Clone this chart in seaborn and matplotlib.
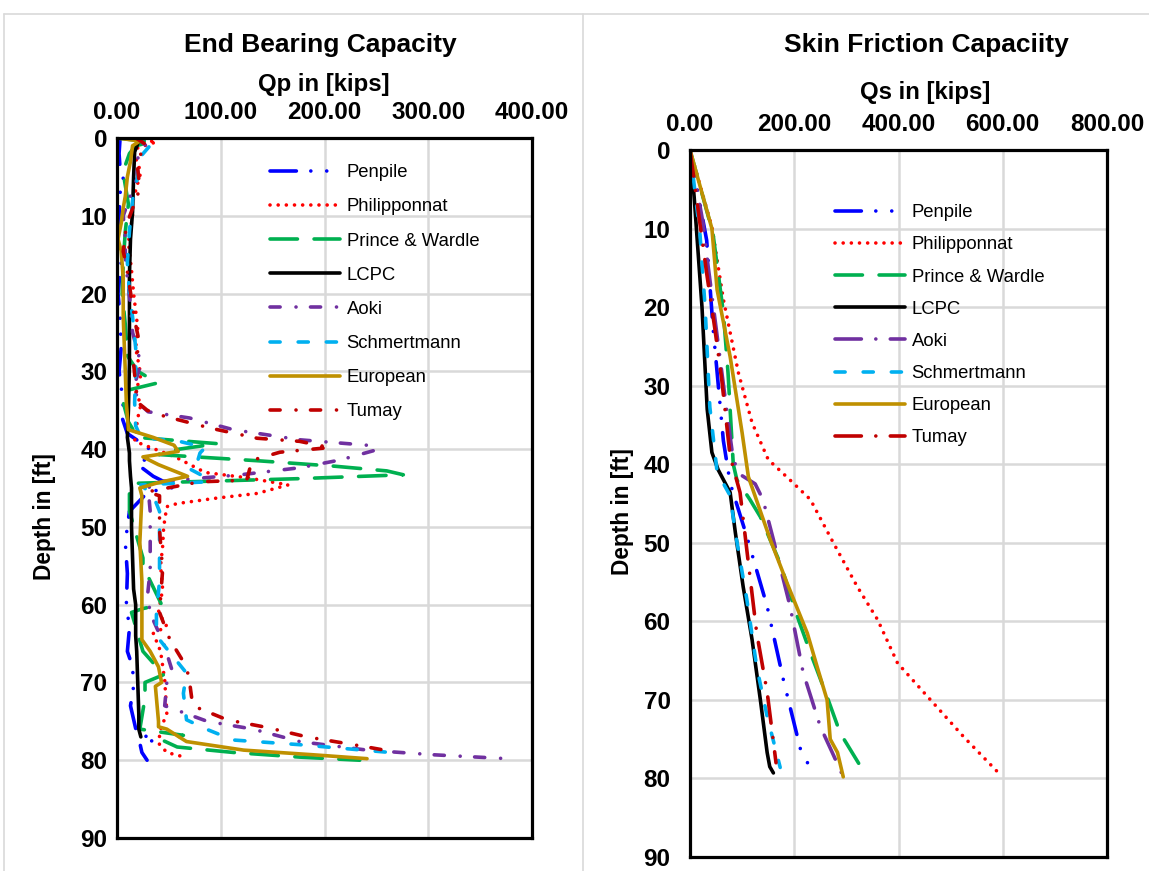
import matplotlib
matplotlib.use("Agg")
import matplotlib.pyplot as plt
import seaborn as sns
import numpy as np
from matplotlib.lines import Line2D

# ---------------- data: End Bearing Capacity (Qp, kips) ----------------
qp_penpile_d = [0, 2, 4, 6, 7, 10, 13, 16, 20, 23, 27, 30, 34, 36, 38, 39.8, 40.8, 42, 43.5, 44.9, 45.5, 48, 52, 56, 60, 63, 66, 68, 70.5, 73, 76.5, 77.4, 77.8, 79, 80]
qp_penpile_v = [3, 2, 3, 8, 3, 2, 1, 4, 1, 3, 4, 2, 6, 5, 10, 30, 33, 20, 35, 56, 30, 12, 8, 10, 9, 12, 10, 15, 16, 13, 19, 38, 22, 24, 29]

qp_philip_d = [0, 0.5, 1.5, 4.4, 8.2, 10, 13.4, 17, 20, 24.4, 27, 30.5, 32.6, 34.3, 36, 38, 39, 41, 43, 43.7, 44.6, 45.7, 46.3, 47, 47.4, 50, 52.5, 55, 58, 61, 62.8, 63.7, 66, 69.7, 74, 76, 77.8, 79, 79.7]
qp_philip_v = [10, 38, 15, 23, 15, 15, 11, 14, 16, 20, 18, 23, 18, 23, 20, 18, 17, 56, 85, 126, 165, 135, 96, 58, 48, 45, 44, 42, 44, 40, 48, 35, 42, 46, 48, 42, 40, 48, 68]

qp_prince_d = [0, 0.5, 1, 2, 3.5, 4.5, 8.5, 12, 16, 20, 24, 28, 30, 31, 31.5, 32.5, 34, 36.5, 38.5, 39.3, 40, 40.7, 41.5, 42.2, 42.8, 43.3, 43.8, 44.4, 45, 48, 54, 55, 60, 60.5, 61, 66, 69, 70, 72, 76, 76.8, 77.5, 78.3, 79, 79.6, 80]
qp_prince_v = [0, 33, 18, 12, 8, 6, 11, 8, 6, 5, 8, 10, 20, 33, 39, 8, 6, 11, 20, 97, 60, 40, 136, 210, 260, 276, 175, 17, 12, 12, 25, 25, 43, 25, 14, 25, 45, 27, 27, 22, 64, 45, 58, 112, 176, 234]

qp_lcpc_d = [0, 1.8, 5, 9.5, 13, 17.6, 23, 29, 35, 38.5, 39.5, 40.5, 41.5, 43.5, 45, 50, 54, 58, 60, 64, 66, 70, 74, 76, 77]
qp_lcpc_v = [22, 17, 16, 15, 13, 12, 12, 12, 11, 10, 11, 12, 12, 13, 14, 14, 15, 16, 18, 18, 19, 20, 21, 21, 23]

qp_aoki_d = [0, 1, 3, 5, 7, 10, 13, 15.5, 18, 21.5, 25, 29, 31.7, 34, 35.2, 36, 37.5, 38.8, 39.5, 40.1, 41.4, 42.4, 43.3, 44.2, 45, 48, 52, 55.5, 59.4, 62, 65, 68.4, 70, 73, 75, 76, 77.6, 78.7, 79.3, 79.8]
qp_aoki_v = [20, 28, 18, 20, 14, 6, 8, 8, 10, 13, 15, 23, 17, 20, 30, 70, 112, 176, 241, 250, 215, 176, 119, 38, 30, 32, 32, 32, 29, 35, 45, 53, 48, 46, 87, 131, 176, 241, 305, 376]

qp_schm_d = [0, 0.8, 2.8, 5, 8, 12, 16, 20, 23, 27, 29.6, 34, 37, 38.5, 39, 39.8, 40.5, 41.4, 42.4, 43.6, 44.2, 44.6, 46, 48, 52, 57, 61, 64, 66, 68.8, 71.4, 74.8, 76, 77.4, 78, 79, 79.7]
qp_schm_v = [10, 33, 20, 20, 15, 12, 10, 12, 15, 18, 18, 17, 18, 23, 60, 85, 80, 78, 68, 85, 88, 23, 35, 41, 41, 41, 38, 38, 50, 67, 64, 67, 86, 112, 176, 263, 265]

qp_euro_d = [0, 0.4, 1, 3, 5, 7.5, 9, 11, 13, 14.5, 18, 23, 30, 34, 37.5, 38.5, 39.5, 40.3, 41, 42, 43.5, 44.3, 45, 46, 52, 57, 64.5, 66, 68, 70, 70.5, 75, 75.7, 76, 77.1, 77.6, 78.7, 79.3, 79.8]
qp_euro_v = [1, 22, 15, 13, 10, 8, 6, 4, 1, 4, 6, 6, 8, 9, 11, 35, 55, 59, 25, 40, 68, 40, 22, 24, 22, 24, 24, 32, 40, 43, 37, 40, 40, 48, 61, 67, 122, 189, 241]

qp_tumay_d = [0, 1, 2, 4, 6.5, 8, 11.2, 14.6, 16.3, 19, 21.5, 24, 26.6, 29, 31.7, 34, 35, 35.6, 37.3, 38.6, 39, 39.8, 40.4, 41.4, 42.5, 44, 44.2, 45.5, 46, 50.4, 55.5, 61, 64.5, 68, 70, 73, 74.8, 75.8, 77, 78.3, 78.9]
qp_tumay_v = [18, 30, 23, 20, 22, 18, 9, 6, 9, 12, 15, 18, 22, 16, 18, 20, 29, 41, 90, 135, 176, 205, 157, 131, 128, 125, 80, 29, 41, 41, 44, 41, 51, 67, 70, 73, 106, 145, 183, 241, 266]

# ---------------- data: Skin Friction Capacity (Qs, kips) ----------------
qs_penpile_d = [0, 11.5, 22.5, 37, 42.4, 49.2, 58.1, 67.4, 76.3, 78.2]
qs_penpile_v = [0, 32, 44, 64, 77, 109, 148, 179, 212, 227]

qs_philip_d = [0, 9.8, 19, 28.4, 34.7, 39.4, 42.2, 44.5, 50, 55.6, 59.8, 65.3, 69.6, 74.7, 79.3]
qs_philip_v = [0, 42, 64, 93, 119, 150, 195, 231, 275, 321, 360, 398, 456, 525, 592]

qs_prince_d = [0, 10.6, 20.7, 28.4, 40, 42, 44.5, 46.7, 52.6, 59.4, 64, 69.6, 74.2, 79.1]
qs_prince_v = [0, 44, 64, 73, 83, 90, 115, 135, 173, 206, 231, 263, 288, 333]

qs_lcpc_d = [0, 6, 20, 33, 38.5, 40.7, 43.6, 48.7, 55.6, 62.3, 70, 76.7, 78.5, 79.3]
qs_lcpc_v = [0, 8, 23, 33, 42, 54, 77, 87, 102, 119, 135, 148, 153, 160]

qs_aoki_d = [0, 9.3, 14.9, 36.5, 39.4, 41.3, 42.5, 44.5, 49.6, 58.1, 66.5, 73.4, 77, 79.8]
qs_aoki_v = [0, 25, 35, 77, 83, 96, 125, 140, 160, 192, 217, 250, 275, 294]

qs_schm_d = [0, 10.6, 20, 32.7, 41, 44, 48.7, 57.2, 65.8, 72.1, 78.6]
qs_schm_v = [0, 19, 29, 38, 52, 77, 87, 109, 128, 148, 173]

qs_euro_d = [0, 10, 17.8, 26.3, 36, 41.6, 49.6, 55.1, 61.5, 65.8, 70, 75, 76.7, 79.8]
qs_euro_v = [0, 42, 52, 77, 100, 112, 154, 186, 225, 244, 263, 269, 283, 294]

qs_tumay_d = [0, 15.7, 22.9, 29.3, 39, 43.6, 50.9, 61.5, 69, 78]
qs_tumay_v = [0, 32, 48, 61, 77, 96, 109, 128, 148, 165]

methods = ["Penpile", "Philipponnat", "Prince & Wardle", "LCPC", "Aoki", "Schmertmann", "European", "Tumay"]
depth_ticks = [0, 10, 20, 30, 40, 50, 60, 70, 80, 90]
qp_ticks = [0, 100, 200, 300, 400]
qs_ticks = [0, 200, 400, 600, 800]

qp_series = {
    "Penpile": (qp_penpile_v, qp_penpile_d),
    "Philipponnat": (qp_philip_v, qp_philip_d),
    "Prince & Wardle": (qp_prince_v, qp_prince_d),
    "LCPC": (qp_lcpc_v, qp_lcpc_d),
    "Aoki": (qp_aoki_v, qp_aoki_d),
    "Schmertmann": (qp_schm_v, qp_schm_d),
    "European": (qp_euro_v, qp_euro_d),
    "Tumay": (qp_tumay_v, qp_tumay_d),
}
qs_series = {
    "Penpile": (qs_penpile_v, qs_penpile_d),
    "Philipponnat": (qs_philip_v, qs_philip_d),
    "Prince & Wardle": (qs_prince_v, qs_prince_d),
    "LCPC": (qs_lcpc_v, qs_lcpc_d),
    "Aoki": (qs_aoki_v, qs_aoki_d),
    "Schmertmann": (qs_schm_v, qs_schm_d),
    "European": (qs_euro_v, qs_euro_d),
    "Tumay": (qs_tumay_v, qs_tumay_d),
}

# ---------------- styling ----------------
sns.set_theme(style="white")
plt.rcParams["font.family"] = ["Liberation Sans", "DejaVu Sans"]
plt.rcParams["text.color"] = "black"
plt.rcParams["xtick.color"] = "black"
plt.rcParams["ytick.color"] = "black"
plt.rcParams["axes.labelcolor"] = "black"

LW = 2.6
colors = {
    "Penpile": "#0000FF", "Philipponnat": "#FF0000", "Prince & Wardle": "#00B050",
    "LCPC": "#000000", "Aoki": "#7030A0", "Schmertmann": "#00B0F0",
    "European": "#BF9000", "Tumay": "#C00000",
}
styles_left = {
    "Penpile": (0, (7.3, 4.0, 0.01, 4.4, 0.01, 4.0)),
    "Philipponnat": (0, (0.01, 2.25)),
    "Prince & Wardle": (0, (7.6, 4.6)),
    "LCPC": "-",
    "Aoki": (0, (2.8, 4.4, 0.01, 4.0)),
    "Schmertmann": (0, (2.8, 5.0)),
    "European": "-",
    "Tumay": (0, (2.8, 4.4, 0.01, 4.0)),
}
styles_right = dict(styles_left)
styles_right["Aoki"] = (0, (7.3, 4.0, 0.01, 4.0))
styles_right["Tumay"] = (0, (7.3, 4.0, 0.01, 4.0))

W, H = 1149, 871
fig = plt.figure(figsize=(W / 100, H / 100), dpi=100)

def px_rect(x0, y0, x1, y1):
    return [x0 / W, 1 - y1 / H, (x1 - x0) / W, (y1 - y0) / H]

ax1 = fig.add_axes(px_rect(117, 138, 532, 838))
ax2 = fig.add_axes(px_rect(690, 150, 1107, 857))

def draw(ax, series, styles, xticks, ypad):
    for m in methods:
        v, d = series[m]
        sns.lineplot(x=v, y=d, ax=ax, sort=False, estimator=None, color=colors[m],
                     linewidth=LW, linestyle=styles[m], dash_capstyle="round",
                     solid_capstyle="round", solid_joinstyle="round", label=m, legend=False)
    ax.set_xlim(xticks[0], xticks[-1])
    ax.set_ylim(90, 0)
    ax.set_xticks(xticks)
    ax.set_xticklabels([f"{t:.2f}" for t in xticks])
    ax.set_yticks(depth_ticks)
    ax.set_yticklabels([str(t) for t in depth_ticks])
    ax.xaxis.tick_top()
    ax.tick_params(axis="x", length=0, labelsize=17.5, pad=10)
    ax.tick_params(axis="y", length=0, labelsize=17.5, pad=ypad)
    for lab in ax.get_xticklabels() + ax.get_yticklabels():
        lab.set_fontweight("bold")
    ax.grid(True, color="#D9D9D9", linewidth=1.8)
    ax.set_axisbelow(True)
    for s in ax.spines.values():
        s.set_color("black")
        s.set_linewidth(2.3)
    ax.set_xlabel("")
    ax.set_ylabel("")

draw(ax1, qp_series, styles_left, qp_ticks, 7)
draw(ax2, qs_series, styles_right, qs_ticks, 14)

# legends
h1, l1 = ax1.get_legend_handles_labels()
ax1.legend(h1, l1, loc="upper left", bbox_to_anchor=(261 / W, 1 - 155 / H),
           bbox_transform=fig.transFigure, frameon=False, fontsize=13.3,
           handlelength=3.8, handletextpad=0.33, labelspacing=0.93, borderpad=0)
h2, l2 = ax2.get_legend_handles_labels()
ax2.legend(h2, l2, loc="upper left", bbox_to_anchor=(826 / W, 1 - 195 / H),
           bbox_transform=fig.transFigure, frameon=False, fontsize=13.3,
           handlelength=3.8, handletextpad=0.33, labelspacing=0.82, borderpad=0)

# titles & axis labels
fig.text(320 / W, 1 - 45 / H, "End Bearing Capacity", ha="center", va="center",
         fontsize=19, fontweight="bold")
fig.text(926 / W, 1 - 45 / H, "Skin Friction Capaciity", ha="center", va="center",
         fontsize=19, fontweight="bold")
fig.text(324 / W, 1 - 85 / H, "Qp in [kips]", ha="center", va="center",
         fontsize=17.3, fontweight="bold")
fig.text(925 / W, 1 - 92 / H, "Qs in [kips]", ha="center", va="center",
         fontsize=17.3, fontweight="bold")
fig.text(45 / W, 1 - 517 / H, "Depth in [ft]", ha="center", va="center",
         rotation=90, fontsize=16.3, fontweight="bold")
fig.text(622 / W, 1 - 512 / H, "Depth in [ft]", ha="center", va="center",
         rotation=90, fontsize=16.3, fontweight="bold")

# chart-area frame lines
frame_c = "#D9D9D9"
fig.add_artist(Line2D([4 / W, 1], [1 - 14 / H, 1 - 14 / H], transform=fig.transFigure, color=frame_c, lw=1.2))
fig.add_artist(Line2D([4 / W, 4 / W], [0, 1 - 14 / H], transform=fig.transFigure, color=frame_c, lw=1.2))
fig.add_artist(Line2D([583 / W, 583 / W], [0, 1 - 14 / H], transform=fig.transFigure, color=frame_c, lw=1.2))

fig.savefig("out.png", dpi=100, facecolor="white")
